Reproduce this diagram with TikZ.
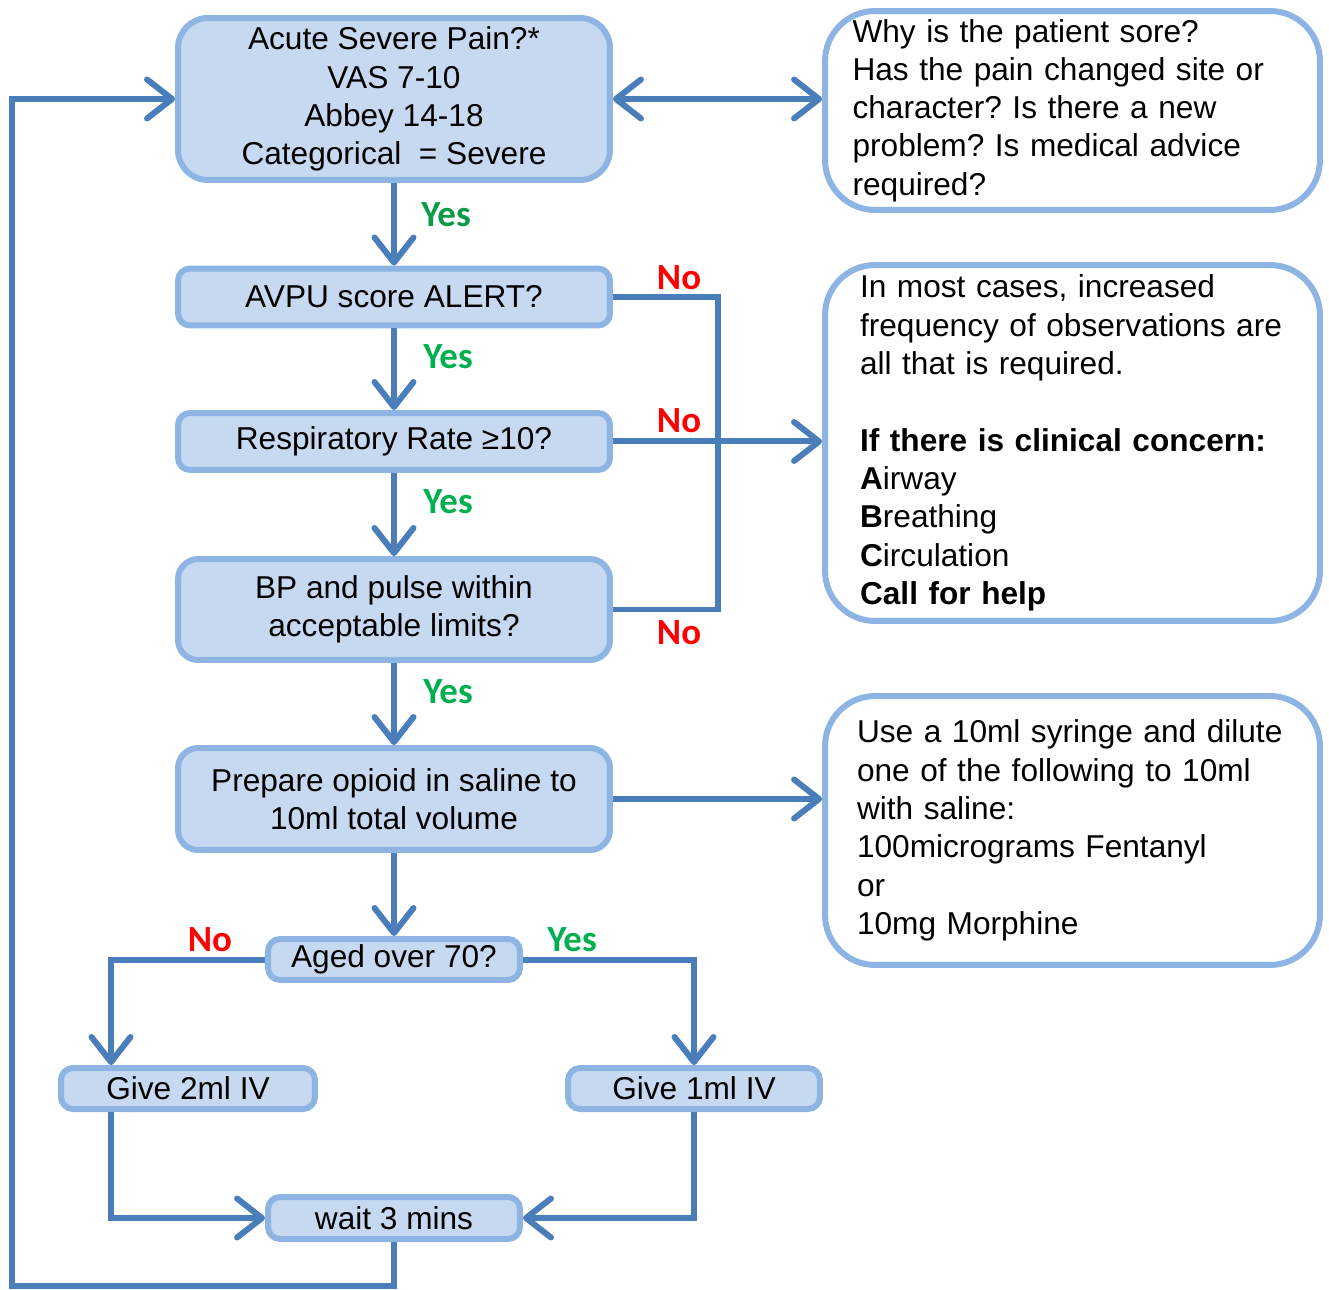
\documentclass[tikz,border=0pt]{standalone}
\usepackage{fontspec}
\setmainfont{Liberation Sans}
\newfontfamily\labelfont{Carlito}
\usepackage{tikz}
\usetikzlibrary{arrows.meta}
\frenchspacing
\definecolor{boxfill}{HTML}{C6D9F1}
\definecolor{boxline}{HTML}{8EB4E3}
\definecolor{flowline}{HTML}{4A7EBB}
\definecolor{yesgreen}{HTML}{00B050}
\definecolor{yesdark}{HTML}{0A9A48}
\definecolor{nored}{HTML}{FF0000}
\tikzstyle{question} = [rectangle, rounded corners=0.24cm, minimum width=8.64cm, minimum height=1.14cm, text centered, align=center, draw=boxline, fill=boxfill, line width=0.12cm, inner sep=0pt]
\tikzstyle{note} = [rectangle, rounded corners=1cm, minimum width=9.9cm, text width=8.8cm, inner xsep=0.55cm, align=left, draw=boxline, fill=white, line width=0.12cm]
\tikzstyle{link} = [line width=0.12cm, draw=flowline]
\tikzstyle{arrow} = [link, -{Straight Barb[length=0.5cm, width=0.78cm, round]}]
\tikzstyle{yeslabel} = [text=yesgreen, font=\labelfont\bfseries\fontsize{21pt}{24pt}\selectfont, inner sep=0pt]
\tikzstyle{nolabel} = [text=nored, font=\labelfont\bfseries\fontsize{21pt}{24pt}\selectfont, inner sep=0pt]

\begin{document}
\begin{tikzpicture}[x=0.02cm, y=-0.02cm, font=\fontsize{18pt}{21.8pt}\selectfont]
    \useasboundingbox (0,0) rectangle (1329,1290);
    % main column
    \node (acute) [question, minimum height=3.24cm, rounded corners=0.6cm] at (394,99) {Acute Severe Pain?*\\VAS 7-10\\Abbey 14-18\\Categorical~~= Severe};
    \node (avpu) [question] at (394,297) {AVPU score ALERT?};
    \node (resp) [question] at (394,441.5) {Respiratory Rate ≥10?};
    \node (bp) [question, minimum height=2.02cm, rounded corners=0.4cm] at (394,609.5) {BP and pulse within\\acceptable limits?};
    \node (prepare) [question, minimum height=2.04cm, rounded corners=0.4cm] at (394,799) {Prepare opioid in saline to\\10ml total volume};
    \node (aged) [question, minimum width=5.04cm, minimum height=0.82cm] at (394,959.5) {Aged over 70?};
    \node (give2) [question, minimum width=5.08cm, minimum height=0.82cm] at (188,1088.5) {Give 2ml IV};
    \node (give1) [question, minimum width=5.04cm, minimum height=0.82cm] at (694,1088.5) {Give 1ml IV};
    \node (wait) [question, minimum width=5.04cm, minimum height=0.84cm] at (394,1218) {wait 3 mins};
    % notes on the right
    \node (why) [note, minimum height=3.98cm] at (1072.5,110.5) {Why is the patient sore?\\Has the pain changed site or\\character? Is there a new\\problem? Is medical advice\\required?};
    \node (concern) [note, minimum height=7.12cm, text width=8.5cm, inner xsep=0.7cm] at (1072.5,443) {In most cases, increased\\frequency of observations are\\all that is required.\\[21.8pt]\textbf{If there is clinical concern:}\\\textbf{A}irway\\\textbf{B}reathing\\\textbf{C}irculation\\\textbf{Call for help}};
    \node (syringe) [note, minimum height=5.38cm, text width=8.62cm, inner xsep=0.64cm] at (1072.5,830.5) {Use a 10ml syringe and dilute\\one of the following to 10ml\\with saline:\\100micrograms Fentanyl\\or\\10mg Morphine};
    \coordinate (nojoin) at (718,441.5);
    \coordinate (g2x) at (111,0);
    \coordinate (loopcorner) at (12,1286);
    % connectors
    \draw [link, {Straight Barb[length=0.5cm, width=0.78cm, round]}-{Straight Barb[length=0.5cm, width=0.78cm, round]}] (acute.east) -- (acute.east -| why.west);
    \draw [arrow] (acute) -- (avpu);
    \draw [arrow] (avpu) -- (resp);
    \draw [arrow] (resp) -- (bp);
    \draw [arrow] (bp) -- (prepare);
    \draw [arrow] (prepare) -- (aged);
    \draw [link] (avpu.east) -| (nojoin) |- (bp.east);
    \draw [arrow] (resp.east) -- (resp.east -| concern.west);
    \draw [arrow] (prepare.east) -- (prepare.east -| syringe.west);
    \draw [arrow] (aged.west) -| (g2x |- give2.north);
    \draw [arrow] (aged.east) -| (give1.north);
    \draw [arrow] (g2x |- give2.south) |- (wait.west);
    \draw [arrow] (give1.south) |- (wait.east);
    \draw [arrow] (wait.south) |- (loopcorner) |- (acute.west);
    % yes / no labels
    \node (yes1) [yeslabel, text=yesdark] at (446,215) {Yes};
    \node (yes2) [yeslabel] at (448,357) {Yes};
    \node (yes3) [yeslabel] at (448,502) {Yes};
    \node (yes4) [yeslabel] at (448,692) {Yes};
    \node (yes5) [yeslabel] at (572,940) {Yes};
    \node (no1) [nolabel] at (679,278) {No};
    \node (no2) [nolabel] at (679,421) {No};
    \node (no3) [nolabel] at (679,633) {No};
    \node (no4) [nolabel] at (210,940) {No};
\end{tikzpicture}
\end{document}
